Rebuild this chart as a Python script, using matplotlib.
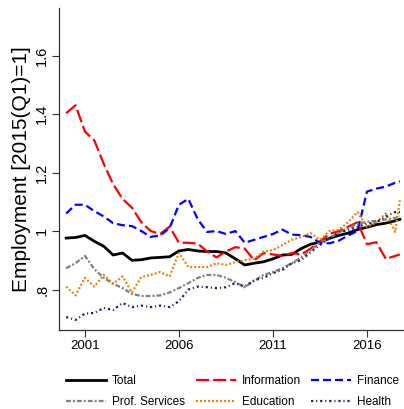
import numpy as np
import matplotlib.pyplot as plt
from matplotlib.ticker import FixedLocator

# semiannual readings, 2000 to end of 2017
years = [2000.0, 2000.5, 2001.0, 2001.5, 2002.0, 2002.5, 2003.0, 2003.5, 2004.0, 2004.5,
         2005.0, 2005.5, 2006.0, 2006.5, 2007.0, 2007.5, 2008.0, 2008.5, 2009.0, 2009.5,
         2010.0, 2010.5, 2011.0, 2011.5, 2012.0, 2012.5, 2013.0, 2013.5, 2014.0, 2014.5,
         2015.0, 2015.5, 2016.0, 2016.5, 2017.0, 2017.5, 2017.75]

total = [0.976, 0.978, 0.985, 0.965, 0.948, 0.918, 0.925, 0.900, 0.902, 0.908,
         0.910, 0.912, 0.932, 0.937, 0.932, 0.930, 0.930, 0.925, 0.905, 0.884,
         0.890, 0.895, 0.905, 0.918, 0.920, 0.940, 0.955, 0.962, 0.975, 0.985,
         0.993, 1.005, 1.013, 1.022, 1.027, 1.035, 1.040]

information = [1.403, 1.430, 1.340, 1.310, 1.230, 1.160, 1.110, 1.080, 1.030, 1.000,
               0.990, 1.015, 0.960, 0.960, 0.957, 0.930, 0.910, 0.930, 0.945, 0.940,
               0.900, 0.925, 0.920, 0.915, 0.925, 0.920, 0.940, 0.965, 0.990, 1.000,
               1.015, 1.030, 0.955, 0.962, 0.905, 0.915, 0.920]

finance = [1.060, 1.090, 1.090, 1.068, 1.050, 1.027, 1.020, 1.017, 1.000, 0.980,
           0.985, 1.010, 1.090, 1.110, 1.040, 0.997, 1.000, 0.990, 1.000, 0.960,
           0.970, 0.980, 0.990, 1.005, 0.988, 0.986, 0.980, 0.960, 0.958, 0.967,
           0.985, 1.000, 1.135, 1.145, 1.152, 1.165, 1.170]

prof_services = [0.873, 0.890, 0.915, 0.870, 0.840, 0.820, 0.805, 0.785, 0.778, 0.778,
                 0.780, 0.790, 0.805, 0.822, 0.840, 0.850, 0.850, 0.840, 0.825, 0.808,
                 0.830, 0.850, 0.860, 0.873, 0.890, 0.910, 0.935, 0.960, 0.975, 0.995,
                 1.010, 1.025, 1.032, 1.035, 1.040, 1.045, 1.050]

education = [0.810, 0.780, 0.840, 0.810, 0.850, 0.820, 0.845, 0.790, 0.843, 0.850,
             0.860, 0.845, 0.925, 0.877, 0.877, 0.877, 0.890, 0.884, 0.894, 0.900,
             0.905, 0.930, 0.935, 0.952, 0.970, 0.980, 0.993, 0.970, 1.000, 1.005,
             1.030, 1.065, 1.014, 1.030, 1.060, 0.997, 1.105]

health = [0.706, 0.696, 0.718, 0.720, 0.737, 0.730, 0.754, 0.740, 0.745, 0.740,
          0.745, 0.740, 0.760, 0.800, 0.810, 0.808, 0.805, 0.808, 0.822, 0.810,
          0.832, 0.840, 0.856, 0.867, 0.890, 0.900, 0.928, 0.952, 0.975, 0.995,
          1.003, 1.015, 1.025, 1.030, 1.050, 1.065, 1.065]

xticks = [2001, 2006, 2011, 2016]
yticks = [0.8, 1.0, 1.2, 1.4, 1.6]
ytick_labels = ['.8', '1', '1.2', '1.4', '1.6']

plt.rcParams['font.family'] = ['Liberation Sans', 'DejaVu Sans']

fig = plt.figure(figsize=(4.04, 4.09), dpi=100)
ax = fig.add_axes([0.146, 0.193, 0.854, 0.787])

l_tot, = ax.plot(years, total, color='black', lw=2.0, label='Total')
l_inf, = ax.plot(years, information, color='#ff0000', lw=1.6, dashes=(5.9, 1.8), label='Information')
l_fin, = ax.plot(years, finance, color='#0000ff', lw=1.6, dashes=(3.6, 1.8), label='Finance')
l_pro, = ax.plot(years, prof_services, color='#808080', lw=1.6, dashes=(2.2, 0.9, 0.9, 0.9), label='Prof. Services')
l_edu, = ax.plot(years, education, color='#e8850f', lw=1.6, dashes=(0.9, 0.9), label='Education')
l_hea, = ax.plot(years, health, color='#1c2a55', lw=1.6, dashes=(1.0, 1.3, 0.5, 1.3), label='Health')

ax.set_xlim(1999.62, 2017.97)
ax.set_ylim(0.6615, 1.762)
ax.xaxis.set_major_locator(FixedLocator(xticks))
ax.yaxis.set_major_locator(FixedLocator(yticks))
ax.set_yticklabels(ytick_labels, rotation=90, va='center', fontsize=10.5)
ax.set_xticklabels([str(x) for x in xticks], fontsize=9.5)
ax.tick_params(axis='both', length=5, width=0.8, color='#333333', pad=2)
ax.set_ylabel('Employment [2015(Q1)=1]', fontsize=15, labelpad=3)

for s in ['top', 'right']:
    ax.spines[s].set_visible(False)
for s in ['left', 'bottom']:
    ax.spines[s].set_color('#333333')
    ax.spines[s].set_linewidth(0.9)

# row-major order like the reference: legend fills column by column
order = [l_tot, l_pro, l_inf, l_edu, l_fin, l_hea]
fig.legend(order, [h.get_label() for h in order], ncol=3, loc='upper left',
           bbox_to_anchor=(0.163, 0.082), frameon=False, handlelength=3.4,
           handletextpad=0.5, columnspacing=0.9, labelspacing=0.75,
           borderaxespad=0, borderpad=0, prop={'size': 8.5})

fig.savefig('out.png', dpi=100)
